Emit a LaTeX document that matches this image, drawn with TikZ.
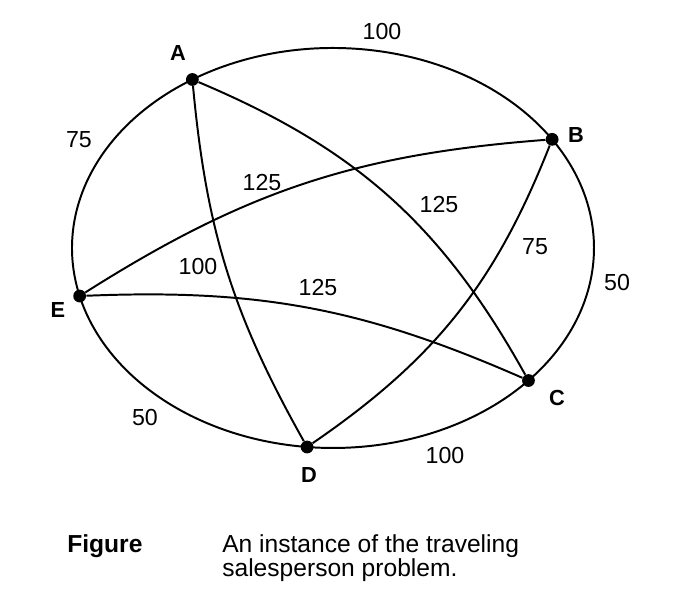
\documentclass[tikz,border=0pt]{standalone}
\usepackage{fontspec}
\setmainfont{Liberation Sans}
\tikzset{
  city/.style={circle, fill=black, inner sep=0pt, minimum size=0.32cm},
  cityname/.style={font=\bfseries\fontsize{15.5}{18}\selectfont},
  cost/.style={font=\fontsize{16.5}{18}\selectfont},
  road/.style={line width=1.4pt},
}
\begin{document}
\begin{tikzpicture}
    \useasboundingbox (0, 0) rectangle (17.325, 15.05);

    \pgfmathsetmacro{\xc}{8.325};
    \pgfmathsetmacro{\yc}{8.85};
    \pgfmathsetmacro{\rx}{6.525};
    \pgfmathsetmacro{\ry}{5};

    % cities on the ellipse
    \begin{scope}[shift={(\xc, \yc)}]
    \node [city] (A) at (122.6:\rx cm and \ry cm) {};
    \node [city] (B) at (32.9:\rx cm and \ry cm) {};
    \node [city] (C) at (-41.5:\rx cm and \ry cm) {};
    \node [city] (D) at (-95.7:\rx cm and \ry cm) {};
    \node [city] (E) at (193.9:\rx cm and \ry cm) {};
    \end{scope}

    % outer tour
    \draw [road] (A.center) arc [start angle=122.6, end angle=32.9, x radius=\rx, y radius=\ry];
    \draw [road] (B.center) arc [start angle=32.9, end angle=-41.5, x radius=\rx, y radius=\ry];
    \draw [road] (C.center) arc [start angle=-41.5, end angle=-95.7, x radius=\rx, y radius=\ry];
    \draw [road] (D.center) arc [start angle=-95.7, end angle=-166.1, x radius=\rx, y radius=\ry];
    \draw [road] (E.center) arc [start angle=-166.1, end angle=-237.4, x radius=\rx, y radius=\ry];

    % inner roads
    \draw [road] (E) to [bend left=14] (B);
    \draw [road] (A) to [bend left=19] (C);
    \draw [road] (A) to [bend right=12] (D);
    \draw [road] (E) to [bend left=13] (C);
    \draw [road] (D) to [bend right=17] (B);

    \node [cityname] (nA) at (4.45, 13.725) {A};
    \node [cityname] (nB) at (14.4, 11.675) {B};
    \node [cityname] (nC) at (13.925, 5.1) {C};
    \node [cityname] (nD) at (7.725, 3.175) {D};
    \node [cityname] (nE) at (1.45, 7.3) {E};

    \node [cost] (wAB) at (9.55, 14.25) {100};
    \node [cost] (wEA) at (1.975, 11.55) {75};
    \node [cost] (wEB) at (6.55, 10.475) {125};
    \node [cost] (wAC) at (10.975, 9.925) {125};
    \node [cost] (wDB) at (13.375, 8.875) {75};
    \node [cost] (wBC) at (15.425, 7.975) {50};
    \node [cost] (wAD) at (4.95, 8.375) {100};
    \node [cost] (wEC) at (7.95, 7.85) {125};
    \node [cost] (wDE) at (3.625, 4.6) {50};
    \node [cost] (wCD) at (11.125, 3.65) {100};

    % caption
    \node [anchor=base west, inner sep=0pt, font=\bfseries\fontsize{17.5}{17}\selectfont] (fig) at (1.675, 1.23) {Figure};
    \node [anchor=base west, inner sep=0pt, align=left, font=\fontsize{17.5}{17}\selectfont] (cap) at (5.55, 0.63) {An instance of the traveling\\salesperson problem.};
\end{tikzpicture}
\end{document}
